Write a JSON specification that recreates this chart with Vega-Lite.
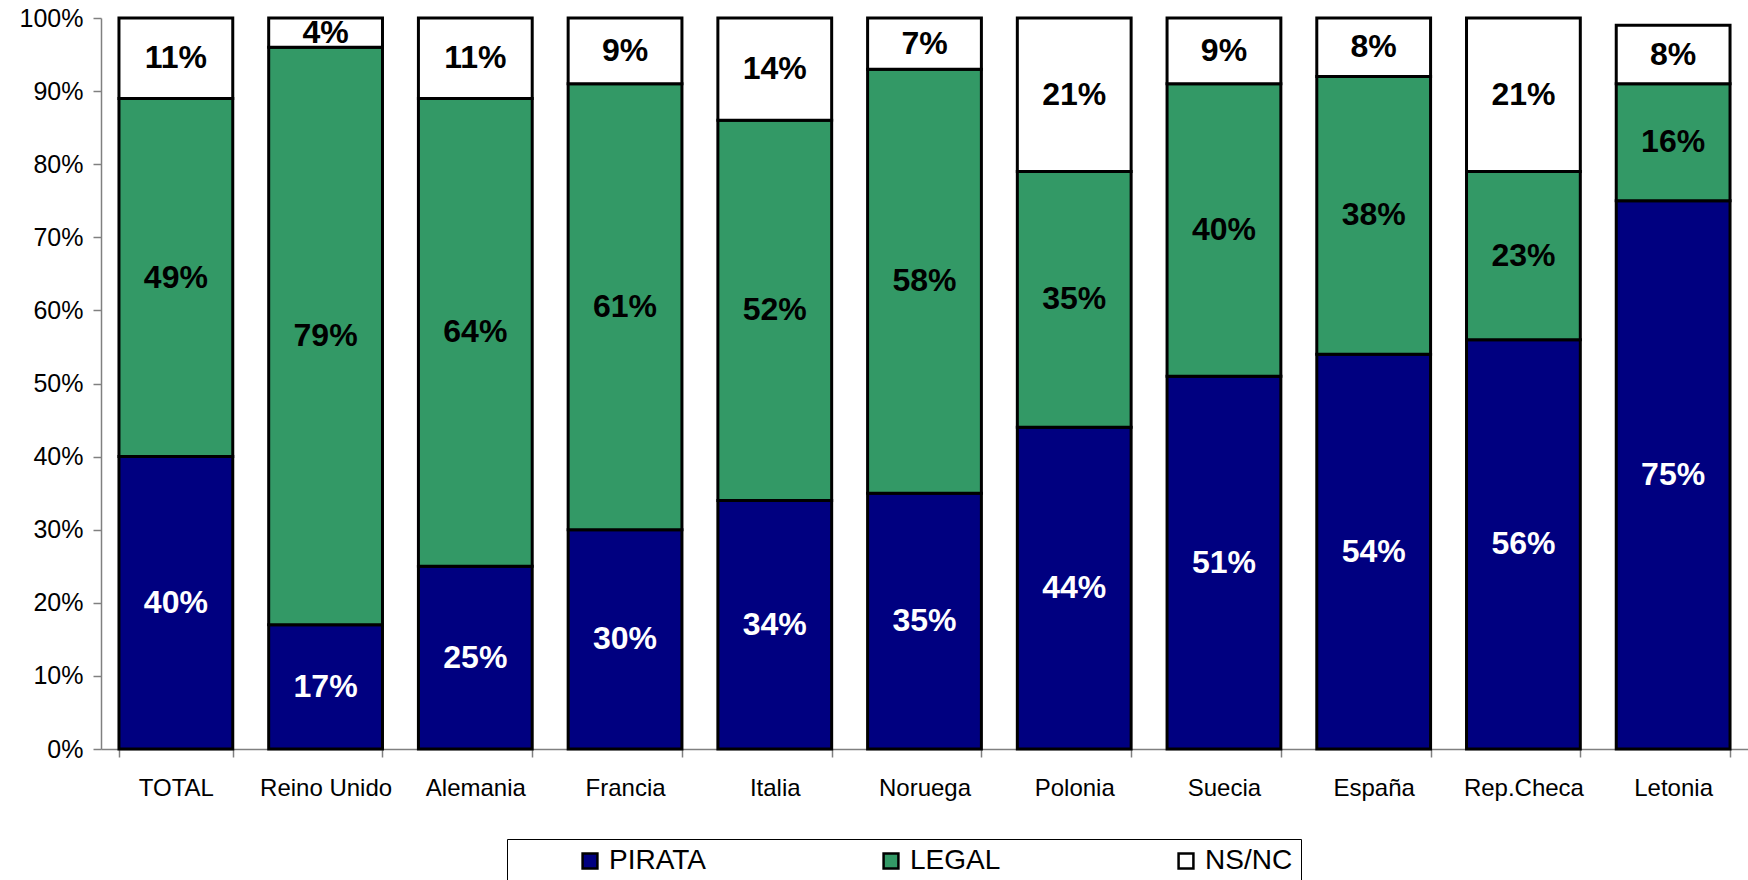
{
  "$schema": "https://vega.github.io/schema/vega-lite/v6.json",
  "autosize": {"type": "none"},
  "width": 1647,
  "height": 731,
  "padding": {"left": 101, "top": 18, "right": 0, "bottom": 131},
  "background": "white",
  "config": {
    "font": "Liberation Sans",
    "view": {"stroke": null},
    "axis": {"labelFont": "Liberation Sans", "labelColor": "black", "domainColor": "#808080", "tickColor": "#808080", "grid": false, "title": null}
  },
  "data": {
    "values": [
      {"pais": "TOTAL", "tipo": "PIRATA", "valor": 0.40},
      {"pais": "TOTAL", "tipo": "LEGAL", "valor": 0.49},
      {"pais": "TOTAL", "tipo": "NS/NC", "valor": 0.11},
      {"pais": "Reino Unido", "tipo": "PIRATA", "valor": 0.17},
      {"pais": "Reino Unido", "tipo": "LEGAL", "valor": 0.79},
      {"pais": "Reino Unido", "tipo": "NS/NC", "valor": 0.04},
      {"pais": "Alemania", "tipo": "PIRATA", "valor": 0.25},
      {"pais": "Alemania", "tipo": "LEGAL", "valor": 0.64},
      {"pais": "Alemania", "tipo": "NS/NC", "valor": 0.11},
      {"pais": "Francia", "tipo": "PIRATA", "valor": 0.30},
      {"pais": "Francia", "tipo": "LEGAL", "valor": 0.61},
      {"pais": "Francia", "tipo": "NS/NC", "valor": 0.09},
      {"pais": "Italia", "tipo": "PIRATA", "valor": 0.34},
      {"pais": "Italia", "tipo": "LEGAL", "valor": 0.52},
      {"pais": "Italia", "tipo": "NS/NC", "valor": 0.14},
      {"pais": "Noruega", "tipo": "PIRATA", "valor": 0.35},
      {"pais": "Noruega", "tipo": "LEGAL", "valor": 0.58},
      {"pais": "Noruega", "tipo": "NS/NC", "valor": 0.07},
      {"pais": "Polonia", "tipo": "PIRATA", "valor": 0.44},
      {"pais": "Polonia", "tipo": "LEGAL", "valor": 0.35},
      {"pais": "Polonia", "tipo": "NS/NC", "valor": 0.21},
      {"pais": "Suecia", "tipo": "PIRATA", "valor": 0.51},
      {"pais": "Suecia", "tipo": "LEGAL", "valor": 0.40},
      {"pais": "Suecia", "tipo": "NS/NC", "valor": 0.09},
      {"pais": "España", "tipo": "PIRATA", "valor": 0.54},
      {"pais": "España", "tipo": "LEGAL", "valor": 0.38},
      {"pais": "España", "tipo": "NS/NC", "valor": 0.08},
      {"pais": "Rep.Checa", "tipo": "PIRATA", "valor": 0.56},
      {"pais": "Rep.Checa", "tipo": "LEGAL", "valor": 0.23},
      {"pais": "Rep.Checa", "tipo": "NS/NC", "valor": 0.21},
      {"pais": "Letonia", "tipo": "PIRATA", "valor": 0.75},
      {"pais": "Letonia", "tipo": "LEGAL", "valor": 0.16},
      {"pais": "Letonia", "tipo": "NS/NC", "valor": 0.08}
    ]
  },
  "transform": [
    {"calculate": "indexof(['PIRATA','LEGAL','NS/NC'], datum.tipo)", "as": "orden"},
    {"stack": "valor", "groupby": ["pais"], "sort": [{"field": "orden", "order": "ascending"}], "as": ["v0", "v1"]},
    {"calculate": "(datum.v0 + datum.v1) / 2", "as": "mid"}
  ],
  "encoding": {
    "x": {
      "field": "pais",
      "type": "nominal",
      "sort": ["TOTAL", "Reino Unido", "Alemania", "Francia", "Italia", "Noruega", "Polonia", "Suecia", "España", "Rep.Checa", "Letonia"],
      "scale": {"paddingInner": 0.24, "paddingOuter": 0.12},
      "axis": {"labelAngle": 0, "labelFontSize": 24, "tickSize": 8, "tickBand": "extent", "labelPadding": 19, "domainWidth": 1.5, "tickWidth": 1.5}
    }
  },
  "layer": [
    {
      "mark": {"type": "bar", "stroke": "black", "strokeWidth": 3, "opacity": 1},
      "encoding": {
        "y": {
          "field": "v0", "type": "quantitative",
          "scale": {"domain": [0, 1], "nice": false},
          "axis": {"format": ".0%", "values": [0, 0.1, 0.2, 0.3, 0.4, 0.5, 0.6, 0.7, 0.8, 0.9, 1], "labelFontSize": 25, "tickSize": 8, "labelPadding": 10, "domainWidth": 1.5, "tickWidth": 1.5}
        },
        "y2": {"field": "v1"},
        "color": {
          "field": "tipo", "type": "nominal",
          "scale": {"domain": ["PIRATA", "LEGAL", "NS/NC"], "range": ["#000080", "#339966", "#ffffff"]},
          "legend": {
            "orient": "none", "legendX": 406, "legendY": 821, "direction": "horizontal", "columns": 3,
            "title": null, "padding": 8, "symbolOffset": 61, "columnPadding": 110, "gridAlign": "each",
            "symbolType": "square", "symbolSize": 220, "symbolStrokeColor": "black", "symbolStrokeWidth": 2.5,
            "labelFont": "Liberation Sans", "labelFontSize": 28, "labelColor": "black", "labelOffset": 5, "labelLimit": 300,
            "labelExpr": "datum.label === 'NS/NC' ? datum.label + '\u2003\u2003\u2003' : datum.label",
            "strokeColor": "black", "fillColor": "white"
          }
        }
      }
    },
    {
      "mark": {"type": "text", "fontSize": 32, "fontWeight": "bold", "font": "Liberation Sans", "baseline": "middle", "align": "center"},
      "encoding": {
        "y": {"field": "mid", "type": "quantitative"},
        "text": {"field": "valor", "type": "quantitative", "format": ".0%"},
        "color": {"condition": {"test": "datum.tipo === 'PIRATA'", "value": "white"}, "value": "black"}
      }
    }
  ]
}
